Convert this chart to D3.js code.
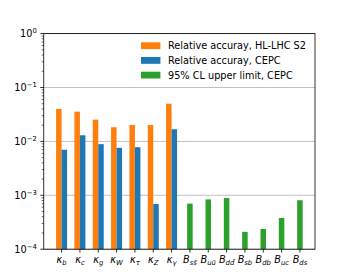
<!DOCTYPE html>
<html>
<head>
<meta charset="utf-8">
<script src="https://cdn.jsdelivr.net/npm/d3@7"></script>
<style>
  html, body { margin: 0; padding: 0; background: #fff; }
  svg { display: block; font-family: "DejaVu Sans", sans-serif; }
</style>
</head>
<body>
<svg id="chart" width="350" height="280"></svg>
<script>
// ---- data ----
const labelBase = ["κ","κ","κ","κ","κ","κ","κ","B","B","B","B","B","B","B"];
const labelSub  = ["b","c","g","W","τ","Z","γ","ss\u0304","uu\u0304","dd\u0304","sb","db","uc","ds"];
const hlLhc  = [0.040, 0.0356, 0.0253, 0.0183, 0.0202, 0.0202, 0.050];
const cepc   = [0.0070, 0.0130, 0.0089, 0.0076, 0.0078, 0.00069, 0.0168];
const limits = [0.00070, 0.00084, 0.00089, 0.00021, 0.000237, 0.00038, 0.00081];
const yTickExps = [0, -1, -2, -3, -4];
const legendLabels = ["Relative accuray, HL-LHC S2", "Relative accuray, CEPC", "95% CL upper limit, CEPC"];
const colors = ["#ff7f0e", "#1f77b4", "#2ca02c"];

// ---- layout ----
const svg = d3.select("#chart");
const L = 43.75, R = 315, T = 33.6, B = 249.2;
const fs = 9.72;
const x = d3.scaleLinear().domain([-0.9725, 13.8225]).range([L, R]);
const y = d3.scaleLog().domain([1e-4, 1]).range([B, T]);
const bw = 0.3;

// gridlines
const g = svg.append("g");
g.selectAll("line.grid").data(yTickExps).join("line")
  .attr("x1", L).attr("x2", R)
  .attr("y1", d => y(Math.pow(10, d))).attr("y2", d => y(Math.pow(10, d)))
  .attr("stroke", "#b0b0b0").attr("stroke-width", 0.8);

// bars
const nK = hlLhc.length;
g.selectAll("rect.hl").data(hlLhc).join("rect")
  .attr("x", (d, i) => x(i - bw)).attr("width", (d, i) => x(i) - x(i - bw))
  .attr("y", d => y(d)).attr("height", d => B - y(d))
  .attr("fill", colors[0]);
g.selectAll("rect.ce").data(cepc).join("rect")
  .attr("x", (d, i) => x(i)).attr("width", (d, i) => x(i + bw) - x(i))
  .attr("y", d => y(d)).attr("height", d => B - y(d))
  .attr("fill", colors[1]);
g.selectAll("rect.lim").data(limits).join("rect")
  .attr("x", (d, i) => x(nK + i - bw / 2)).attr("width", (d, i) => x(nK + i + bw / 2) - x(nK + i - bw / 2))
  .attr("y", d => y(d)).attr("height", d => B - y(d))
  .attr("fill", colors[2]);

// y minor ticks
const minors = [];
for (let e = -4; e < 0; e++) for (let k = 2; k <= 9; k++) minors.push(k * Math.pow(10, e));
g.selectAll("line.minor").data(minors).join("line")
  .attr("x1", L - 2).attr("x2", L)
  .attr("y1", d => y(d)).attr("y2", d => y(d))
  .attr("stroke", "#000").attr("stroke-width", 0.6);
// y major ticks
g.selectAll("line.major").data(yTickExps).join("line")
  .attr("x1", L - 3.4).attr("x2", L)
  .attr("y1", d => y(Math.pow(10, d))).attr("y2", d => y(Math.pow(10, d)))
  .attr("stroke", "#000").attr("stroke-width", 0.8);
// y labels
const yl = g.selectAll("text.yl").data(yTickExps).join("text")
  .attr("x", L - 7).attr("y", d => y(Math.pow(10, d)) + 3.5)
  .attr("text-anchor", "end").attr("font-size", fs).attr("fill", "#000");
yl.append("tspan").text("10");
yl.append("tspan").attr("dy", -4).attr("font-size", fs * 0.7)
  .text(d => d === 0 ? "0" : "\u2212" + Math.abs(d));

// x ticks
const allIdx = d3.range(labelBase.length);
g.selectAll("line.xt").data(allIdx).join("line")
  .attr("x1", d => x(d)).attr("x2", d => x(d))
  .attr("y1", B).attr("y2", B + 3.4)
  .attr("stroke", "#000").attr("stroke-width", 0.8);
const xl = g.selectAll("text.xl").data(allIdx).join("text")
  .attr("x", d => x(d)).attr("y", B + 14)
  .attr("text-anchor", "middle").attr("font-size", fs).attr("font-style", "italic").attr("fill", "#000");
xl.append("tspan").text(d => labelBase[d]);
xl.append("tspan").attr("dy", 2).attr("font-size", fs * 0.7).text(d => labelSub[d]);

// frame
g.append("rect").attr("x", L).attr("y", T).attr("width", R - L).attr("height", B - T)
  .attr("fill", "none").attr("stroke", "#000").attr("stroke-width", 0.8);

// legend
const lg = svg.append("g");
const rows = [45.7, 60.4, 75.1];
legendLabels.forEach((lab, i) => {
  lg.append("rect").attr("x", 141).attr("y", rows[i] - 3.4).attr("width", 19.4).attr("height", 6.8).attr("fill", colors[i]);
  lg.append("text").attr("x", 168).attr("y", rows[i] + 3.5).attr("font-size", fs).attr("fill", "#000").text(lab);
});
</script>
</body>
</html>
